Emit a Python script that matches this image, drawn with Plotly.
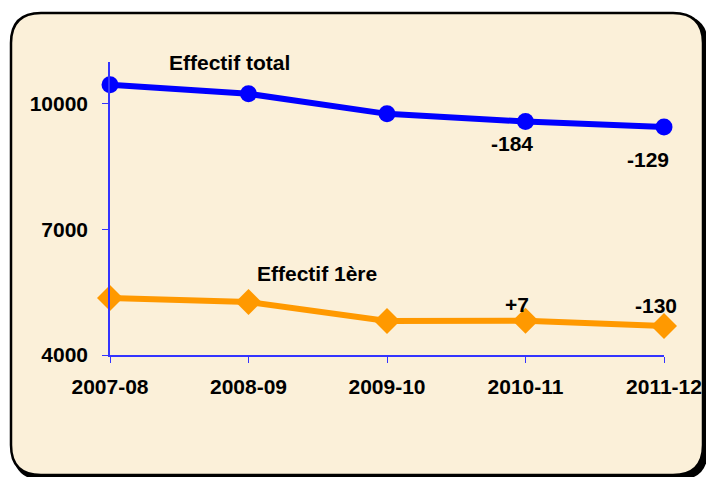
import plotly.graph_objects as go

years = ["2007-08", "2008-09", "2009-10", "2010-11", "2011-12"]
effectif_total = [10455, 10240, 9761, 9577, 9448]
effectif_1ere = [5363, 5268, 4813, 4820, 4690]
y_ticks = [4000, 7000, 10000]

W, H = 706, 477
L, T = 110, 62
R = W - 664
B = H - 355
PW, PH = W - L - R, H - T - B

def px(x):
    return (x - L) / PW

def py(y):
    return (H - B - y) / PH

def rounded_rect(x0, y0, x1, y1, r):
    pts = [
        f"M {px(x0 + r)},{py(y0)}",
        f"L {px(x1 - r)},{py(y0)}",
        f"Q {px(x1)},{py(y0)} {px(x1)},{py(y0 + r)}",
        f"L {px(x1)},{py(y1 - r)}",
        f"Q {px(x1)},{py(y1)} {px(x1 - r)},{py(y1)}",
        f"L {px(x0 + r)},{py(y1)}",
        f"Q {px(x0)},{py(y1)} {px(x0)},{py(y1 - r)}",
        f"L {px(x0)},{py(y0 + r)}",
        f"Q {px(x0)},{py(y0)} {px(x0 + r)},{py(y0)}",
        "Z",
    ]
    return " ".join(pts)

FONT = "Liberation Sans, Arial, sans-serif"

fig = go.Figure()
fig.add_trace(go.Scatter(
    x=years, y=effectif_total, mode="lines+markers", name="Effectif total",
    line=dict(color="#0000FF", width=6),
    marker=dict(symbol="circle", size=17, color="#0000FF"),
    cliponaxis=False,
))
fig.add_trace(go.Scatter(
    x=years, y=effectif_1ere, mode="lines+markers", name="Effectif 1ère",
    line=dict(color="#FF9900", width=6),
    marker=dict(symbol="diamond", size=20, color="#FF9900"),
    cliponaxis=False,
))

ann_font = dict(family=FONT, size=21, color="black", weight="bold")
annotations = [
    dict(x=years[1], y=effectif_total[1], text="Effectif total", xshift=-19, yshift=31),
    dict(x=years[3], y=effectif_total[3], text="-184", xshift=-14, yshift=-22),
    dict(x=years[4], y=effectif_total[4], text="-129", xshift=-16, yshift=-33),
    dict(x=years[2], y=effectif_1ere[2], text="Effectif 1ère", xshift=-70, yshift=47),
    dict(x=years[3], y=effectif_1ere[3], text="+7", xshift=-9, yshift=16),
    dict(x=years[4], y=effectif_1ere[4], text="-130", xshift=-8, yshift=21),
]
for a in annotations:
    a.update(showarrow=False, font=ann_font, xanchor="center", yanchor="middle")

fig.update_layout(
    width=W, height=H,
    margin=dict(l=L, r=R, t=T, b=B, autoexpand=False),
    paper_bgcolor="white",
    plot_bgcolor="rgba(0,0,0,0)",
    showlegend=False,
    annotations=annotations,
    shapes=[
        dict(type="path", xref="paper", yref="paper",
             path=rounded_rect(13, 15, 708, 480, 30),
             fillcolor="black", line=dict(width=0), layer="below"),
        dict(type="path", xref="paper", yref="paper",
             path=rounded_rect(11, 13, 703, 475, 30),
             fillcolor="#FBF0D9", line=dict(color="black", width=2.5), layer="below"),
    ],
    xaxis=dict(
        type="category", range=[0, 4], showgrid=False, zeroline=False,
        automargin=False,
        showline=True, linecolor="#3333FF", linewidth=1.5,
        ticks="outside", ticklen=6, tickcolor="#3333FF",
        tickfont=dict(family=FONT, size=21, color="black", weight="bold"),
        ticklabelstandoff=6,
    ),
    yaxis=dict(
        range=[4000, 11000], tickvals=y_ticks, tickformat="d",
        showgrid=False, zeroline=False, automargin=False,
        showline=True, linecolor="#3333FF", linewidth=1.5,
        ticks="outside", ticklen=6, tickcolor="#3333FF",
        tickfont=dict(family=FONT, size=21, color="black", weight="bold"),
        ticklabelstandoff=10,
    ),
)

fig.write_html(
    "out.html",
    config={"displayModeBar": False},
    post_script="document.body.style.margin='0';document.body.style.overflow='hidden';",
)
